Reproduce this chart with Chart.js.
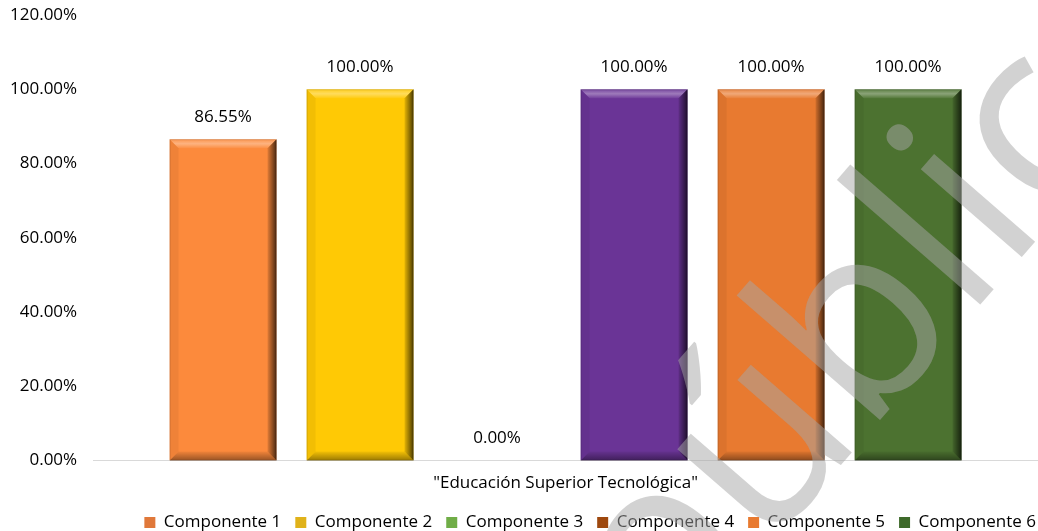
<!DOCTYPE html>
<html>
<head>
<meta charset="utf-8">
<script src="https://cdn.jsdelivr.net/npm/chart.js@4.4.1/dist/chart.umd.min.js"></script>
<style>
  html, body { margin: 0; padding: 0; background: #fff; }
  #wrap { width: 1038px; height: 531px; }
</style>
</head>
<body>
<div id="wrap"><canvas id="myChart" width="1038" height="531"></canvas></div>
<script>
// data
const categories = ['"Educación Superior Tecnológica"'];
const seriesNames = ['Componente 1', 'Componente 2', 'Componente 3', 'Componente 4', 'Componente 5', 'Componente 6'];
const seriesValues = [86.55, 100, 0, 100, 100, 100];
const barColors = ['#FC8A3C', '#FFC905', '#70AD47', '#6A3496', '#E87A30', '#4C7230'];
const legendColors = ['#E0783A', '#E0B21A', '#70AD47', '#9E480E', '#E87A30', '#3E6A2A'];
const yTicks = [0, 20, 40, 60, 80, 100, 120];
const watermark = 'público';

const fontFam = '"Open Sans", sans-serif';

let datasets = seriesNames.map((name, i) => ({
    label: name,
    data: [seriesValues[i]],
    backgroundColor: barColors[i],
    borderWidth: 0
}));

// bevel look of the excel bars
const bevel = {
    id: 'bevel',
    afterDatasetsDraw(chart) {
        const ctx = chart.ctx;
        chart.data.datasets.forEach((ds, i) => {
            chart.getDatasetMeta(i).data.forEach(bar => {
                const h = bar.base - bar.y;
                if (h < 2) return;
                const l = bar.x - bar.width / 2, r = bar.x + bar.width / 2;
                const t = bar.y, b = bar.base;
                const s = Math.min(9, h / 2);
                ctx.save();
                // top light
                let gt = ctx.createLinearGradient(0, t, 0, t + s);
                gt.addColorStop(0, 'rgba(255,255,255,0.1)');
                gt.addColorStop(0.5, 'rgba(255,255,255,0.35)');
                gt.addColorStop(1, 'rgba(255,255,255,0.05)');
                ctx.fillStyle = gt;
                ctx.beginPath();
                ctx.moveTo(l, t); ctx.lineTo(r, t); ctx.lineTo(r - s, t + s); ctx.lineTo(l + s, t + s);
                ctx.closePath(); ctx.fill();
                // left slight
                ctx.fillStyle = 'rgba(0,0,0,0.05)';
                ctx.beginPath();
                ctx.moveTo(l, t); ctx.lineTo(l + s, t + s); ctx.lineTo(l + s, b - s); ctx.lineTo(l, b);
                ctx.closePath(); ctx.fill();
                // right dark gradient
                let g = ctx.createLinearGradient(r - s, 0, r, 0);
                g.addColorStop(0, 'rgba(0,0,0,0.1)');
                g.addColorStop(1, 'rgba(0,0,0,0.7)');
                ctx.fillStyle = g;
                ctx.beginPath();
                ctx.moveTo(r, t); ctx.lineTo(r, b); ctx.lineTo(r - s, b - s); ctx.lineTo(r - s, t + s);
                ctx.closePath(); ctx.fill();
                // bottom dark
                let gb = ctx.createLinearGradient(0, b - s, 0, b);
                gb.addColorStop(0, 'rgba(0,0,0,0.05)');
                gb.addColorStop(1, 'rgba(0,0,0,0.4)');
                ctx.fillStyle = gb;
                ctx.beginPath();
                ctx.moveTo(l, b); ctx.lineTo(r, b); ctx.lineTo(r - s, b - s); ctx.lineTo(l + s, b - s);
                ctx.closePath(); ctx.fill();
                ctx.strokeStyle = 'rgba(0,0,0,0.12)';
                ctx.lineWidth = 1;
                ctx.strokeRect(l + 0.5, t + 0.5, bar.width - 1, h - 1);
                ctx.restore();
            });
        });
    }
};

// value labels above bars
const valueLabels = {
    id: 'valueLabels',
    afterDatasetsDraw(chart) {
        const ctx = chart.ctx;
        ctx.save();
        ctx.font = '17px ' + fontFam;
        ctx.fillStyle = '#000';
        ctx.textAlign = 'center';
        ctx.textBaseline = 'middle';
        chart.data.datasets.forEach((ds, i) => {
            chart.getDatasetMeta(i).data.forEach((bar, j) => {
                ctx.fillText(ds.data[j].toFixed(2) + '%', bar.x, bar.y - 22);
            });
        });
        ctx.restore();
    }
};

// grey "público" stamp that lies over the picture
const stamp = {
    id: 'stamp',
    afterDraw(chart) {
        const ctx = chart.ctx;
        const ang = -49 * Math.PI / 180;
        ctx.save();
        ctx.font = '250px ' + fontFam;
        const pre = ctx.measureText('púb').width + ctx.measureText('l').width / 2;
        const bx = 987, by = 297; // foot of the "l"
        const sx = bx - pre * Math.cos(ang), sy = by - pre * Math.sin(ang);
        ctx.translate(sx, sy);
        ctx.rotate(ang);
        ctx.fillStyle = 'rgba(165,165,165,0.5)';
        ctx.textBaseline = 'alphabetic';
        ctx.fillText(watermark, 0, 0);
        ctx.restore();
    }
};

let mychart = new Chart(document.getElementById("myChart"), {
    type: 'bar',
    data: {
        labels: categories,
        datasets: datasets
    },
    plugins: [bevel, valueLabels, stamp],
    options: {
        responsive: false,
        animation: false,
        devicePixelRatio: 1,
        categoryPercentage: 0.87,
        barPercentage: 0.78,
        layout: { padding: { top: 15, right: -12, left: 10, bottom: -10 } },
        scales: {
            x: {
                grid: { display: false, drawTicks: false },
                border: { display: true, color: '#d9d9d9', width: 1 },
                ticks: { color: '#000', font: { family: fontFam, size: 17 }, padding: 12 },
                afterFit: axis => { axis.height -= 5; }
            },
            y: {
                min: 0,
                max: 120,
                afterBuildTicks: axis => { axis.ticks = yTicks.map(v => ({ value: v })); },
                grid: { display: false, drawTicks: true, tickLength: 16, tickColor: 'rgba(0,0,0,0)' },
                border: { display: false },
                ticks: {
                    color: '#000',
                    padding: 0,
                    font: { family: fontFam, size: 17 },
                    callback: v => v.toFixed(2) + '%'
                }
            }
        },
        plugins: {
            legend: {
                position: 'bottom',
                align: 'end',
                labels: {
                    color: '#000',
                    boxWidth: 11,
                    boxHeight: 11,
                    padding: 14,
                    font: { family: fontFam, size: 17 },
                    generateLabels: chart => seriesNames.map((n, i) => ({
                        text: n,
                        fillStyle: legendColors[i],
                        strokeStyle: legendColors[i],
                        lineWidth: 0,
                        datasetIndex: i,
                        hidden: false
                    }))
                }
            },
            tooltip: { enabled: false }
        }
    }
});
</script>
</body>
</html>
